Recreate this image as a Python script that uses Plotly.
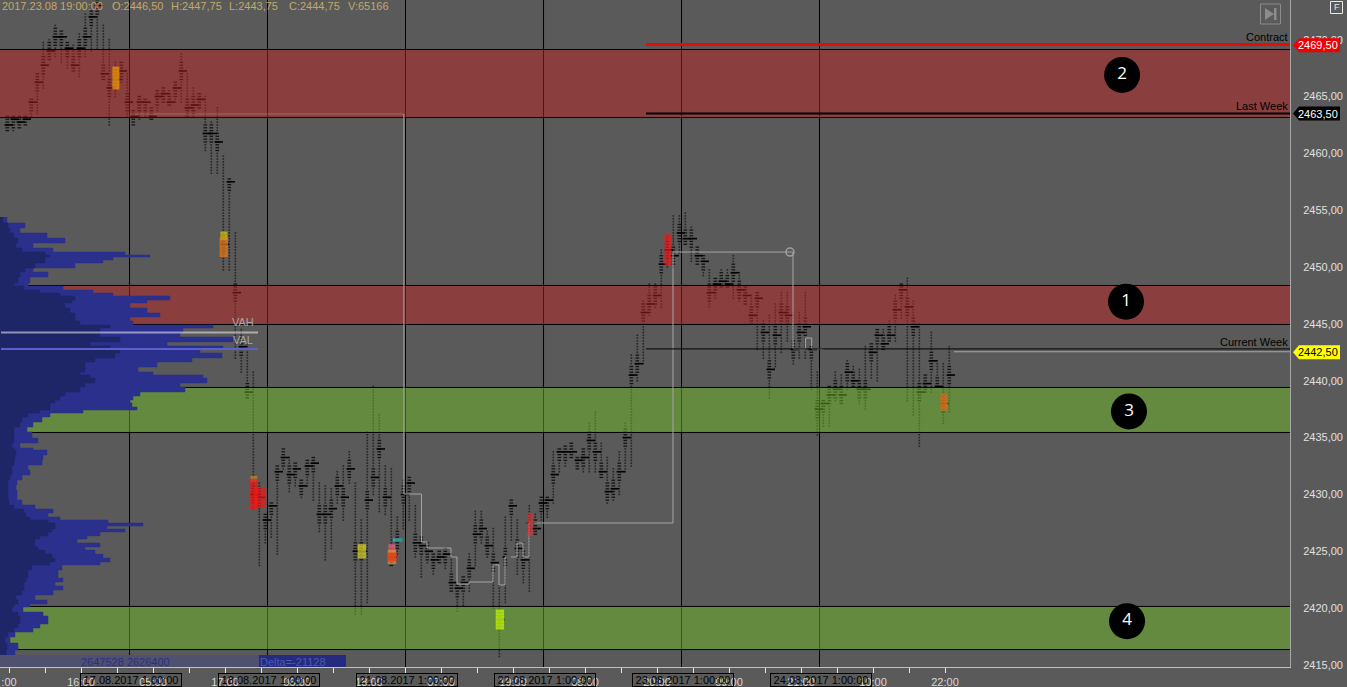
import numpy as np
import plotly.graph_objects as go

# ---- hourly market-profile columns (price high / low / point of control) ----
col_high = [2463.25,2463.25,2463.25,2463.25,2464.75,2467,2469.75,2470,2471.25,2470.75,2469.75,2469.5,2470.5,2472.25,2472.5,2473.5,2471.25,2470,2468,2468,
2467,2463.75,2465,2464.75,2464,2465.5,2465.75,2465.5,2466.25,2468.75,2467,2465.75,2465.25,2465,2462.75,2464,2459.75,2457.75,2453,2444.5,
2443.25,2440.75,2431,2428.25,2429.25,2432.5,2434,2433.25,2432.75,2431.25,2433,2433.25,2431,2430.75,2430.5,2432,2432.5,2433.75,2431,2427.75,
2435.5,2439.5,2437,2432.5,2432.25,2428,2431.25,2431.5,2429,2426.25,2425.75,2424.75,2425,2425.25,2424.75,2422,2422.75,2424.75,2428.5,2428.5,
2426.75,2427,2422,2428,2429.5,2427.75,2425.75,2429,2428.25,2429.75,2429.75,2433.75,2434,2434.25,2434.5,2433.25,2434,2436.25,2437.25,2434.5,
2433.25,2432.25,2433.75,2436.25,2442.25,2444,2447,2448.5,2448.5,2451.5,2452.75,2454.5,2454.5,2454.75,2453.5,2451.75,2451,2449.75,2449,2449.75,
2449.75,2451,2449.5,2448.25,2447.5,2447.75,2445.25,2445.75,2446.75,2447.75,2447.75,2446,2446,2447.75,2443,2440.75,2438.25,2439.5,2440.75,2440.5,
2441.75,2441.25,2441,2443,2443.25,2444.5,2444.5,2445.25,2447.5,2448.5,2449,2447,2445,2440.5,2444.25,2441.75,2441.5,2443]
col_low = [2462,2462,2462.25,2462.5,2463.25,2463.5,2465.75,2468.25,2468.5,2468,2467.5,2467.25,2466.75,2468.5,2469,2469.25,2466.5,2462.5,2465,2466.25,
2463.25,2462.5,2463,2463.25,2463,2463.75,2464.5,2464.25,2464.5,2464.5,2463.25,2463.25,2464,2460.25,2458.25,2458.25,2449.75,2449.75,2442,2440.75,
2438.5,2428.75,2423.75,2425.75,2426.25,2424.75,2432.25,2430.25,2430.75,2429.75,2430.75,2429.5,2426.75,2424.25,2425.25,2429.25,2427.75,2431,2419.5,2419.5,
2420.5,2430,2428.5,2428.25,2423.75,2424.75,2427,2427.75,2424.5,2422.75,2424,2423,2424,2423.5,2421.5,2419.75,2420.25,2421.5,2423.75,2425.75,
2424.5,2420,2415.75,2420.5,2426,2423,2422.25,2421.5,2426.5,2427.5,2428,2429.25,2432,2432.5,2433.25,2432.25,2432,2432,2432,2431.5,
2429.25,2429.5,2430,2432,2432.5,2440,2441.5,2445.75,2446.5,2446.5,2450,2450,2451.25,2452,2450.5,2450.25,2449.25,2446.5,2447.25,2448.25,
2448.25,2447.25,2447,2446.75,2445,2442.75,2442,2438.5,2441.25,2442.5,2443.5,2441.5,2442,2442,2439.25,2435.25,2436,2436,2438.25,2438,
2439.25,2439.5,2438,2437.5,2440.25,2440,2442.75,2443.5,2443.5,2445.5,2438.25,2437,2434.25,2439,2439,2439.5,2436.25,2437.25]
col_poc = [2462.5,2463,2462.75,2463,2464.5,2466.25,2467.75,2469,2470.25,2470.25,2469.25,2467.75,2469.25,2470.25,2472,2473,2467,2465.75,2466.5,2467.25,
2464.5,2463.25,2464.5,2464.5,2463.25,2465,2465.25,2464.5,2465.75,2467.25,2464,2464.25,2464.75,2461.75,2461.75,2461,2452,2457.5,2447.75,2443,
2439,2430,2429.75,2427.75,2429,2432,2433.25,2431.75,2432.25,2430.75,2432.5,2432.75,2428.25,2428.25,2428.75,2430.75,2429.75,2432.25,2425,2425,
2429.5,2431.5,2434,2429.75,2424.5,2426,2430,2431,2425.75,2425.5,2425,2424.25,2424.5,2424.75,2422.25,2421.75,2422.25,2423.5,2426.5,2427,
2425.5,2424,2419,2424.5,2429,2425.25,2424.25,2427.5,2427,2429.25,2429.5,2431.75,2433.75,2433.75,2433.75,2433,2433.25,2434.75,2433.75,2432,
2430.25,2430.5,2432,2435,2440.5,2441.5,2446,2446.75,2447.5,2450.25,2451.5,2451,2453,2452.5,2452.5,2451,2450.5,2447.75,2448.5,2448.75,
2448.5,2449.5,2448,2447.5,2445.75,2447.25,2444.25,2441,2444,2446,2445.75,2442.75,2444.25,2444.75,2442.75,2437.5,2438,2438.75,2439.25,2438.75,
2440.75,2440,2439.25,2439.25,2442.5,2444,2443.25,2444,2446.25,2448,2446.5,2444.75,2439,2439.75,2441.75,2439.5,2438,2440.5]

# ---- highlighted (high-volume) clusters ----
hl_col   = [18,36,36,41,41,42,59,64,64,64,65,82,87,110,156]
hl_high  = [2467.5,2453,2452.5,2431.5,2431.25,2430.5,2425.5,2425.5,2425,2424.75,2426,2419.75,2428.25,2452.75,2438.75]
hl_low   = [2465.75,2452.5,2451,2431.25,2428.75,2429,2424.5,2425,2424,2424.25,2426,2418.25,2426.5,2450.25,2437.5]
hl_color = ["#f8a400","#d6d000","#f57c10","#c8882a","#fa1414","#fa1414","#e0d820","#f06080","#e89030","#f03410","#28d8d8","#ccff00","#e83030","#fa1414","#f06418"]
hl_width = [5,5,6,5,6,9,6,5,6,7,7,6,4,5,5]

# ---- price zones ----
zone_top    = [2469.13,2448.38,2439.41,2420.15]
zone_bottom = [2463.15,2444.95,2435.45,2416.36]
zone_fill   = ["rgba(186,34,34,0.5)","rgba(186,34,34,0.5)","rgba(108,186,36,0.5)","rgba(108,186,36,0.5)"]
zone_labels = ["2","1","3","4"]
zone_label_col   = [185.8,186.45,186.95,186.62]
zone_label_price = [2466.9,2446.95,2437.3,2418.85]

# ---- session separators and axis labels ----
session_col  = [20.37,43.37,66.37,89.37,112.37,135.37]
session_text = ["17.08.2017 1:00:00","18.08.2017 1:00:00","21.08.2017 1:00:00","22.08.2017 1:00:00","23.08.2017 1:00:00","24.08.2017 1:00:00"]
time_tick_col  = [0.283+6*n for n in range(27)]
time_tick_text = [":00","","16:00","","05:00","","17:00","","06:00","","18:00","","07:00","","19:00","","08:00","","20:00","","09:00","","21:00","","10:00","","22:00"]
price_ticks = [2415,2420,2425,2430,2435,2440,2445,2450,2455,2460,2465,2470]

# ---- stepped developing level ----
faint_col  = [20.45,66.1]
faint_price = 2463.46
step_col   = [66.1,69.03,69.95,73.95,74.95,76.95,80.95,81.95,82.95,84.95,85.95,86.95,110.95,130.95,133.05,134.07,136]
step_price = [2430.04,2425.82,2425.29,2424.5,2422.12,2422.3,2423.8,2422.04,2424.5,2425.73,2424.5,2427.49,2451.32,2442.79,2443.76,2442.79,2442.79]

# ---- volume profile on the left ----
prof_price = [2454.4,2453.87,2453.43,2452.99,2452.55,2452.11,2451.67,2451.32,2451.06,2450.88,2450.62,2450.36,2449.92,2449.56,2449.12,2448.6,2448.33,2447.98,2447.72,2447.45,
2447.1,2446.84,2446.4,2445.96,2445.61,2445.25,2444.9,2444.64,2444.24,2443.85,2443.41,2443.06,2442.75,2442.44,2442,2441.65,2441.21,2440.77,2440.51,2440.24,
2439.8,2439.45,2439.01,2438.66,2438.31,2438.04,2437.69,2437.43,2437.16,2436.81,2436.37,2435.93,2435.49,2434.96,2434.52,2434.09,2433.91,2433.47,2433.03,2432.59,
2432.15,2431.71,2431.27,2430.83,2430.39,2429.95,2429.51,2429.07,2428.72,2428.37,2428.02,2427.75,2427.49,2427.22,2426.96,2426.7,2426.35,2426.08,2425.73,2425.38,
2425.11,2424.76,2424.41,2424.06,2423.8,2423.36,2422.65,2422.3,2421.95,2421.6,2421.16,2420.72,2420.36,2420.1,2419.66,2419.31,2418.96,2418.61,2418.25,2417.9,
2417.46,2416.93,2416.32,2415.88]
prof_total = [7,25,20,47,65,33,53,125,150,113,103,75,33,48,30,28,63,93,113,170,
147,130,147,160,130,133,213,183,180,233,167,223,200,222,192,157,138,153,203,207,
180,185,140,133,130,132,137,83,50,42,33,27,32,38,20,33,47,43,42,28,
30,22,17,16,17,17,22,35,53,48,60,108,143,107,125,100,87,77,100,85,
95,103,110,100,62,58,63,55,63,53,35,47,30,23,43,48,48,40,33,15,
10,18,15,3]
prof_delta = [3,8,10,14,18,16,22,45,50,45,45,35,25,20,18,14,24,40,60,75,
72,65,70,75,75,80,110,100,100,120,90,110,120,115,95,85,85,80,90,95,
85,80,65,60,55,50,50,40,28,22,20,14,14,14,12,14,16,15,14,12,
12,10,8,8,8,8,9,14,24,26,30,48,55,55,52,48,40,35,35,38,
45,52,55,50,32,28,26,24,24,22,16,18,14,12,18,20,20,18,14,8,
5,7,6,2]

# ---- reference levels ----
vah_price, val_price = 2444.24, 2442.8
level_start = 106.45
contract_level, last_week_level, current_week_line, current_week_level = 2469.57, 2463.5, 2442.8, 2442.55
current_level_start = 157.8

W, H = 1347, 687
PLOT_W, PLOT_H = 1290, 667
SCALE = 11.37
XMIN = -7.3/6
XMAX = (PLOT_W-7.3)/6
YMIN = 2415-(PLOT_H-665)/SCALE
YMAX = 2415+665/SCALE
BG = "#5a5a5a"
FONT = "Liberation Sans"

def xp(px): return px/PLOT_W
def yp(py): return (PLOT_H-py)/PLOT_H

# build dots from each column's low/high
dx, dy, nx, ny = [], [], [], []
for k,(hi,lo,poc) in enumerate(zip(col_high,col_low,col_poc)):
    for p in np.arange(lo,hi+0.01,0.25):
        if abs(p-poc) <= 0.75:
            nx.append(k); ny.append(float(p))
        else:
            dx.append(k); dy.append(float(p))

fig = go.Figure()
fig.add_trace(go.Scatter(x=dx,y=dy,mode="markers",marker=dict(symbol="square",size=1.6,color="#262626",line_width=0)))
fig.add_trace(go.Scatter(x=nx,y=ny,mode="markers",marker=dict(symbol="line-ew",size=2.6,line=dict(width=1.3,color="#141414"))))
fig.add_trace(go.Scatter(x=[k+0.25 for k in range(len(col_poc))],y=col_poc,mode="markers",marker=dict(symbol="line-ew",size=6,line=dict(width=1.6,color="#000000"))))

# zones tint everything under them
for top,bot,fill in zip(zone_top,zone_bottom,zone_fill):
    fig.add_trace(go.Scatter(x=[XMIN,XMAX,XMAX,XMIN,XMIN],y=[top,top,bot,bot,top],mode="lines",line=dict(width=0),fill="toself",fillcolor=fill))
lx, ly = [], []
for top,bot in zip(zone_top,zone_bottom):
    lx += [XMIN,XMAX,None,XMIN,XMAX,None]; ly += [top,top,None,bot,bot,None]
fig.add_trace(go.Scatter(x=lx,y=ly,mode="lines",line=dict(color="#000000",width=1)))

# stepped level, weekly levels
fig.add_trace(go.Scatter(x=faint_col,y=[faint_price]*2,mode="lines",line=dict(color="rgba(255,255,255,0.22)",width=1)))
fig.add_trace(go.Scatter(x=[step_col[0],step_col[0]],y=[faint_price,step_price[0]],mode="lines",line=dict(color="#a6a6a6",width=1)))
fig.add_trace(go.Scatter(x=step_col,y=step_price,mode="lines",line=dict(color="#a6a6a6",width=1,shape="hv")))
fig.add_trace(go.Scatter(x=[130.45],y=[2451.32],mode="markers",marker=dict(symbol="circle-open",size=8,color="#a0a0a0",line=dict(color="#a0a0a0",width=1.5))))
fig.add_trace(go.Scatter(x=[level_start,XMAX],y=[current_week_line]*2,mode="lines",line=dict(color="#000000",width=1)))
fig.add_trace(go.Scatter(x=[current_level_start,XMAX],y=[current_week_level]*2,mode="lines",line=dict(color="#a8a8a8",width=1)))
fig.add_trace(go.Scatter(x=[level_start,XMAX],y=[last_week_level]*2,mode="lines",line=dict(color="#000000",width=2)))
fig.add_trace(go.Scatter(x=[level_start,XMAX],y=[contract_level]*2,mode="lines",line=dict(color="#ea0808",width=3)))

# highlighted clusters
hx,hy,hc,hw = [],[],[],[]
for k,hi,lo,c,w in zip(hl_col,hl_high,hl_low,hl_color,hl_width):
    for p in np.arange(lo,hi+0.01,0.25):
        hx.append(k+0.1); hy.append(float(p)); hc.append(c); hw.append(w)
fig.add_trace(go.Scatter(x=hx,y=hy,mode="markers",marker=dict(symbol="line-ew",size=hw,line=dict(width=2.8,color=hc))))

# numbered circles
fig.add_trace(go.Scatter(x=zone_label_col,y=zone_label_price,mode="markers+text",text=zone_labels,textposition="middle center",
    textfont=dict(color="white",size=17,family="Open Sans"),marker=dict(size=36,color="#000000",line_width=0)))

# volume profile, on its own overlaid axis
fig.add_trace(go.Scatter(x=prof_total,y=prof_price,xaxis="x2",mode="lines",line=dict(color="#2a308c",width=0.5,shape="vh"),fill="tozerox",fillcolor="#2a308c"))
fig.add_trace(go.Scatter(x=prof_delta,y=prof_price,xaxis="x2",mode="lines",line=dict(color="#1f2668",width=0.5,shape="vh"),fill="tozerox",fillcolor="#1f2668"))
fig.add_trace(go.Scatter(x=[1,258],y=[vah_price]*2,xaxis="x2",mode="lines",line=dict(color="rgba(255,255,255,0.5)",width=2)))
fig.add_trace(go.Scatter(x=[1,258],y=[val_price]*2,xaxis="x2",mode="lines",line=dict(color="#5b5fd0",width=2)))

shapes = []
for s in session_col:
    shapes.append(dict(type="line",layer="below",xref="x",yref="paper",x0=s,x1=s,y0=0,y1=1,line=dict(color="#000000",width=1)))
# summary strip
shapes.append(dict(type="rect",layer="above",xref="paper",yref="paper",x0=0,x1=xp(259),y0=yp(667),y1=yp(655),fillcolor="#50516e",line_width=0))
shapes.append(dict(type="rect",layer="above",xref="paper",yref="paper",x0=xp(259),x1=xp(346),y0=yp(667),y1=yp(655),fillcolor="#252c7f",line_width=0))
# price tags
for price,col in [(2469.5,"#f00000"),(2463.5,"#000000"),(2442.5,"#ffff00")]:
    shapes.append(dict(type="path",layer="above",xref="paper",yref="y",xsizemode="pixel",ysizemode="pixel",xanchor=1.0,yanchor=price,
        path="M 3 0 L 9 -7 L 50 -7 L 50 7 L 9 7 Z",fillcolor=col,line_width=0))
# end-of-chart button
shapes.append(dict(type="rect",layer="above",xref="paper",yref="paper",x0=xp(1260.5),x1=xp(1280.5),y0=yp(24),y1=yp(4),line=dict(color="#8c8c8c",width=1)))
shapes.append(dict(type="path",layer="above",xref="paper",yref="paper",
    path=f"M {xp(1265)} {yp(8)} L {xp(1274)} {yp(14)} L {xp(1265)} {yp(20)} Z",fillcolor="#8c8c8c",line_width=0))
shapes.append(dict(type="rect",layer="above",xref="paper",yref="paper",x0=xp(1274),x1=xp(1276.5),y0=yp(20),y1=yp(8),fillcolor="#8c8c8c",line_width=0))
# F box
shapes.append(dict(type="rect",layer="above",xref="paper",yref="paper",x0=xp(1330.5),x1=xp(1342.5),y0=yp(13.5),y1=yp(1.5),line=dict(color="#e8e8e8",width=1)))

ann = []
def text(px,py,t,color,size=11,xanchor="left"):
    ann.append(dict(xref="paper",yref="paper",x=xp(px),y=yp(py),text=t,showarrow=False,xanchor=xanchor,yanchor="middle",
                    font=dict(color=color,size=size,family=FONT),borderpad=0,borderwidth=0))
HEAD = "#c4a868"
text(2,6,"2017.23.08 19:00:00",HEAD); text(112,6,"O:2446,50",HEAD); text(171,6,"H:2447,75",HEAD)
text(229,6,"L:2443,75",HEAD); text(289,6,"C:2444,75",HEAD); text(348,6,"V:65166",HEAD)
text(1288,37,"Contract","#000000",xanchor="right"); text(1288,106,"Last Week","#000000",xanchor="right"); text(1288,342,"Current Week","#000000",xanchor="right")
text(1318.5,45,"2469,50","#ffffff",xanchor="center"); text(1318.5,114,"2463,50","#ffffff",xanchor="center"); text(1318.5,352,"2442,50","#000000",xanchor="center")
text(243,322,"VAH","#a8a8a8",xanchor="center"); text(243,340,"VAL","#a8a8a8",xanchor="center")
text(81,662,"2647528 2626400","#2a3080"); text(260,662,"Delta=-21128","#4e58b0")
text(1336.5,7.5,"F","#e8e8e8",size=9,xanchor="center")
for s,t in zip(session_col,session_text):
    ann.append(dict(xref="x",yref="paper",x=s+0.17,y=yp(680),text=t,showarrow=False,xanchor="center",yanchor="middle",
                    width=100,height=12,bordercolor="#000000",borderwidth=1,borderpad=0,
                    font=dict(color="#000000",size=11,family=FONT)))

fig.update_traces(hoverinfo="skip",showlegend=False,cliponaxis=True)
fig.update_layout(
    width=W,height=H,autosize=False,margin=dict(l=0,r=W-PLOT_W,t=0,b=H-PLOT_H,pad=0),
    paper_bgcolor=BG,plot_bgcolor=BG,showlegend=False,shapes=shapes,annotations=ann,
    font=dict(family=FONT,size=11,color="#e0e0e0"),
    xaxis=dict(range=[XMIN,XMAX],showgrid=False,zeroline=False,tickmode="array",tickvals=time_tick_col,ticktext=time_tick_text,
               ticks="outside",ticklen=5,tickwidth=1,tickcolor="#e8e8e8",tickangle=0,showline=True,linecolor="#c0c0c0",linewidth=1,
               tickfont=dict(color="#d8d8d8",size=11,family=FONT)),
    xaxis2=dict(overlaying="x",anchor="y",range=[0,PLOT_W],visible=False),
    yaxis=dict(range=[YMIN,YMAX],side="right",showgrid=False,zeroline=False,tickmode="array",tickvals=price_ticks,
               ticktext=[f"{v},00" for v in price_ticks],ticks="",showline=True,linecolor="#a8a8a8",linewidth=1,ticklabelstandoff=10,
               tickfont=dict(color="#e0e0e0",size=11,family=FONT)),
)
fig.write_html("out.html",config=dict(displayModeBar=False),post_script="document.body.style.margin='0';document.body.style.overflow='hidden';")
